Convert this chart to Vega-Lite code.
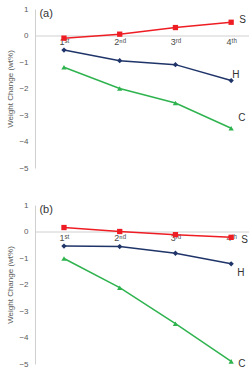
{
  "$schema": "https://vega.github.io/schema/vega-lite/v6.json",
  "padding": {"left": 6, "top": 5, "right": 0, "bottom": 0},
  "background": "white",
  "config": {
    "view": {"stroke": null},
    "font": "Liberation Sans",
    "axis": {"grid": false, "labelFont": "Liberation Sans", "titleFont": "Liberation Sans"}
  },
  "datasets": {
    "d": [
      {"panel": "a", "series": "S", "run": 1, "value": -0.1},
      {"panel": "a", "series": "S", "run": 2, "value": 0.05},
      {"panel": "a", "series": "S", "run": 3, "value": 0.3},
      {"panel": "a", "series": "S", "run": 4, "value": 0.5},
      {"panel": "a", "series": "H", "run": 1, "value": -0.55},
      {"panel": "a", "series": "H", "run": 2, "value": -0.95},
      {"panel": "a", "series": "H", "run": 3, "value": -1.1},
      {"panel": "a", "series": "H", "run": 4, "value": -1.7},
      {"panel": "a", "series": "C", "run": 1, "value": -1.2},
      {"panel": "a", "series": "C", "run": 2, "value": -2.0},
      {"panel": "a", "series": "C", "run": 3, "value": -2.55},
      {"panel": "a", "series": "C", "run": 4, "value": -3.5},
      {"panel": "b", "series": "S", "run": 1, "value": 0.15},
      {"panel": "b", "series": "S", "run": 2, "value": 0.0},
      {"panel": "b", "series": "S", "run": 3, "value": -0.12},
      {"panel": "b", "series": "S", "run": 4, "value": -0.22},
      {"panel": "b", "series": "H", "run": 1, "value": -0.55},
      {"panel": "b", "series": "H", "run": 2, "value": -0.57},
      {"panel": "b", "series": "H", "run": 3, "value": -0.82},
      {"panel": "b", "series": "H", "run": 4, "value": -1.22},
      {"panel": "b", "series": "C", "run": 1, "value": -1.02},
      {"panel": "b", "series": "C", "run": 2, "value": -2.12},
      {"panel": "b", "series": "C", "run": 3, "value": -3.48},
      {"panel": "b", "series": "C", "run": 4, "value": -4.9}
    ]
  },
  "spacing": 29,
  "vconcat": [
    {
      "width": 214,
      "height": 159,
      "data": {"name": "d"},
      "transform": [{"filter": "datum.panel == 'a'"}],
      "encoding": {
        "x": {"field": "run", "type": "quantitative",
          "scale": {"domain": [0.48, 4.32], "nice": false, "zero": false},
          "axis": {"title": null, "values": [1, 2, 3, 4], "offset": -132.5, "ticks": false,
            "labelExpr": "datum.value == 1 ? '1ˢᵗ' : datum.value == 2 ? '2ⁿᵈ' : datum.value == 3 ? '3ʳᵈ' : '4ᵗʰ'",
            "labelFontSize": 9, "labelColor": "#4a4a4a", "labelPadding": 2,
            "domainColor": "#d0d0d0", "labelFlush": false}},
        "y": {"field": "value", "type": "quantitative",
          "scale": {"domain": [-5, 1], "nice": false},
          "axis": {"title": "Weight Change (wt%)", "values": [-5, -4, -3, -2, -1, 0, 1], "ticks": false,
            "labelFontSize": 8, "labelColor": "#595959", "labelPadding": 7,
            "titleFontSize": 8, "titleColor": "#595959", "titleFontWeight": "normal", "titlePadding": 4,
            "domainColor": "#d0d0d0"}}
      },
      "layer": [
        {"mark": {"type": "line", "strokeWidth": 1.5},
          "encoding": {"color": {"field": "series", "type": "nominal", "legend": null,
            "scale": {"domain": ["S", "H", "C"], "range": ["#ee1d23", "#1f3468", "#2fb34f"]}}}},
        {"mark": {"type": "point", "filled": true, "opacity": 1, "size": 28},
          "encoding": {
            "color": {"field": "series", "type": "nominal", "legend": null,
              "scale": {"domain": ["S", "H", "C"], "range": ["#ee1d23", "#1f3468", "#2fb34f"]}},
            "shape": {"field": "series", "type": "nominal", "legend": null,
              "scale": {"domain": ["S", "H", "C"], "range": ["square", "diamond", "triangle-up"]}}}},
        {"transform": [{"filter": "datum.run == 4 && datum.series == 'S'"}],
          "mark": {"type": "text", "align": "left", "baseline": "middle", "dx": 8, "dy": -2, "fontSize": 10, "color": "#333333"},
          "encoding": {"text": {"field": "series"}}},
        {"transform": [{"filter": "datum.run == 4 && datum.series == 'H'"}],
          "mark": {"type": "text", "align": "left", "baseline": "middle", "dx": 1, "dy": -6, "fontSize": 10, "color": "#333333"},
          "encoding": {"text": {"field": "series"}}},
        {"transform": [{"filter": "datum.run == 4 && datum.series == 'C'"}],
          "mark": {"type": "text", "align": "left", "baseline": "middle", "dx": 7, "dy": -10, "fontSize": 10, "color": "#333333"},
          "encoding": {"text": {"field": "series"}}},
        {"transform": [{"filter": "datum.run == 1 && datum.series == 'S'"}],
          "mark": {"type": "text", "align": "left", "baseline": "middle", "fontSize": 11, "color": "#333333"},
          "encoding": {"text": {"value": "(a)"}, "x": {"datum": 0.56}, "y": {"datum": 0.8}}}
      ]
    },
    {
      "width": 214,
      "height": 159,
      "data": {"name": "d"},
      "transform": [{"filter": "datum.panel == 'b'"}],
      "encoding": {
        "x": {"field": "run", "type": "quantitative",
          "scale": {"domain": [0.48, 4.32], "nice": false, "zero": false},
          "axis": {"title": null, "values": [1, 2, 3, 4], "offset": -132.5, "ticks": false,
            "labelExpr": "datum.value == 1 ? '1ˢᵗ' : datum.value == 2 ? '2ⁿᵈ' : datum.value == 3 ? '3ʳᵈ' : '4ᵗʰ'",
            "labelFontSize": 9, "labelColor": "#4a4a4a", "labelPadding": 2,
            "domainColor": "#d0d0d0", "labelFlush": false}},
        "y": {"field": "value", "type": "quantitative",
          "scale": {"domain": [-5, 1], "nice": false},
          "axis": {"title": "Weight Change (wt%)", "values": [-5, -4, -3, -2, -1, 0, 1], "ticks": false,
            "labelFontSize": 8, "labelColor": "#595959", "labelPadding": 7,
            "titleFontSize": 8, "titleColor": "#595959", "titleFontWeight": "normal", "titlePadding": 4,
            "domainColor": "#d0d0d0"}}
      },
      "layer": [
        {"mark": {"type": "line", "strokeWidth": 1.5},
          "encoding": {"color": {"field": "series", "type": "nominal", "legend": null,
            "scale": {"domain": ["S", "H", "C"], "range": ["#ee1d23", "#1f3468", "#2fb34f"]}}}},
        {"mark": {"type": "point", "filled": true, "opacity": 1, "size": 28},
          "encoding": {
            "color": {"field": "series", "type": "nominal", "legend": null,
              "scale": {"domain": ["S", "H", "C"], "range": ["#ee1d23", "#1f3468", "#2fb34f"]}},
            "shape": {"field": "series", "type": "nominal", "legend": null,
              "scale": {"domain": ["S", "H", "C"], "range": ["square", "square", "triangle-up"]}}}},
        {"transform": [{"filter": "datum.run == 4 && datum.series == 'S'"}],
          "mark": {"type": "text", "align": "left", "baseline": "middle", "dx": 10, "dy": 3, "fontSize": 10, "color": "#333333"},
          "encoding": {"text": {"field": "series"}}},
        {"transform": [{"filter": "datum.run == 4 && datum.series == 'H'"}],
          "mark": {"type": "text", "align": "left", "baseline": "middle", "dx": 6, "dy": 9, "fontSize": 10, "color": "#333333"},
          "encoding": {"text": {"field": "series"}}},
        {"transform": [{"filter": "datum.run == 4 && datum.series == 'C'"}],
          "mark": {"type": "text", "align": "left", "baseline": "middle", "dx": 7, "dy": 3, "fontSize": 10, "color": "#333333"},
          "encoding": {"text": {"field": "series"}}},
        {"transform": [{"filter": "datum.run == 1 && datum.series == 'S'"}],
          "mark": {"type": "text", "align": "left", "baseline": "middle", "fontSize": 11, "color": "#333333"},
          "encoding": {"text": {"value": "(b)"}, "x": {"datum": 0.56}, "y": {"datum": 0.8}}}
      ]
    }
  ]
}
